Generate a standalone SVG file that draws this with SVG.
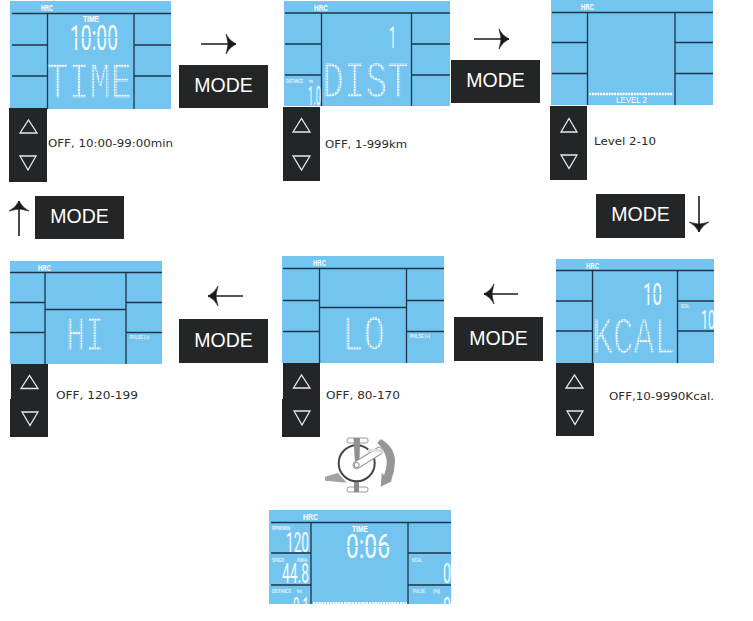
<svg xmlns="http://www.w3.org/2000/svg" width="753" height="621" viewBox="0 0 753 621">
<style>
text{font-family:"Liberation Sans",Arial,sans-serif}
.p{fill:#74c4f0}
.g{fill:none;stroke:#1d3448;stroke-width:1.3}
.k{fill:#242527}
.t{fill:none;stroke:#e9e9e9;stroke-width:1.3}
.m{fill:#fff;font-size:19.5px;text-anchor:middle}
text.l{fill:#2a2a2e;font-size:11px;font-family:"DejaVu Sans",sans-serif}
.h{fill:#fff;font-size:9px;font-weight:bold}
.s{fill:#e6f4fc;font-size:5.500px;font-weight:bold}
text.d{fill:#f4fbff;font-family:Roboto,"Liberation Sans",sans-serif;font-weight:400}
text.q{fill:url(#dots);stroke:#74c4f0;stroke-width:1.2;font-family:"Liberation Mono",monospace}
.a{fill:none;stroke:#1a1a1a;stroke-width:1.6;marker-end:url(#ah)}
</style>
<defs>
<pattern id="dots" width="2.7" height="2.7" patternUnits="userSpaceOnUse"><rect width="2.1" height="2.1" fill="#fff"/></pattern>
<marker id="ah" markerUnits="userSpaceOnUse" markerWidth="24" markerHeight="26" refX="13" refY="12" orient="auto" overflow="visible"><path d="M3,2Q6,8.500 13,12Q6,15.500 3,22Q5,14 5,12Q5,10 3,2Z" fill="#1a1a1a" stroke="#1a1a1a" stroke-width=".6"/></marker>
<clipPath id="c1"><rect x="269" y="510" width="182" height="94"/></clipPath>
<clipPath id="c2"><rect x="677" y="301" width="37" height="30"/></clipPath>
</defs>

<g id="connectors">
<line class="a" x1="201" y1="44" x2="236" y2="44"/>
<line class="a" x1="474" y1="39" x2="509" y2="39"/>
<line class="a" x1="699" y1="196" x2="699" y2="232"/>
<line class="a" x1="518" y1="294" x2="484" y2="294"/>
<line class="a" x1="243" y1="296" x2="208" y2="296"/>
<line class="a" x1="19" y1="236" x2="19" y2="201"/>
</g>

<g id="panel-time">
<rect class="p" x="10" y="1" width="161" height="108"/>
<path class="g" d="M12,13.500H171M47.500,13.500V109M134,13.500V109M12,45H47.500M134,45H171M12,76H47.500M134,76H171"/>
<text class="h" x="41" y="11" textLength="12" lengthAdjust="spacingAndGlyphs">HRC</text>
<text class="h" x="83" y="22" textLength="16" lengthAdjust="spacingAndGlyphs">TIME</text>
<text class="d" x="70" y="50" font-size="35" textLength="48" lengthAdjust="spacingAndGlyphs">10:00</text>
<rect class="p" x="69" y="37" width="50" height="1"/>
<text class="q" x="47" y="98" font-size="52" textLength="85" lengthAdjust="spacingAndGlyphs">TIME</text>
</g>
<g id="keys-time">
<rect class="k" x="9" y="108" width="38" height="74"/>
<path class="t" d="M20,133H37L28.500,120ZM20,156H36L28,170Z"/>
<text class="l" x="48" y="147" textLength="125" lengthAdjust="spacingAndGlyphs">OFF, 10:00-99:00min</text>
</g>
<g id="mode-1"><rect class="k" x="179" y="65" width="89" height="43"/><text class="m" x="223.500" y="92">MODE</text></g>

<g id="panel-dist">
<rect class="p" x="284" y="1" width="166" height="105"/>
<path class="g" d="M285,13H450M321.500,13V106M411.500,13V106M285,44H321.500M411.500,44H450M285,75H321.500M411.500,75H450"/>
<text class="h" x="314" y="11" textLength="14" lengthAdjust="spacingAndGlyphs">HRC</text>
<text class="d" x="389" y="48" font-size="32" textLength="7" lengthAdjust="spacingAndGlyphs">1</text>
<text class="s" x="286" y="83" textLength="17" lengthAdjust="spacingAndGlyphs">DISTANCE</text>
<text class="s" x="309" y="83" textLength="4" lengthAdjust="spacingAndGlyphs">km</text>
<text class="d" x="308" y="105" font-size="26" textLength="13" lengthAdjust="spacingAndGlyphs">1.0</text>
<text class="q" x="322" y="97" font-size="52" textLength="87" lengthAdjust="spacingAndGlyphs">DIST</text>
</g>
<g id="keys-dist">
<rect class="k" x="283" y="107" width="37" height="74"/>
<path class="t" d="M293,132H310L301.500,118.500ZM293,156H310L301.500,170Z"/>
<text class="l" x="325" y="148" textLength="82" lengthAdjust="spacingAndGlyphs">OFF, 1-999km</text>
</g>
<g id="mode-2"><rect class="k" x="451" y="60" width="89" height="43"/><text class="m" x="495.500" y="87">MODE</text></g>

<g id="panel-level">
<rect class="p" x="551" y="0" width="162" height="105"/>
<path class="g" d="M552,12.500H713M587.500,12.500V105M675,12.500V105M552,42.500H587.500M675,42.500H713M552,73.500H587.500M675,73.500H713"/>
<text class="h" x="581" y="9.500" textLength="13" lengthAdjust="spacingAndGlyphs">HRC</text>
<line x1="589" y1="94" x2="673" y2="94" stroke="#fff" stroke-width="2.500" stroke-dasharray="2 .8"/>
<text class="h" x="616" y="103" textLength="31" lengthAdjust="spacingAndGlyphs" style="font-weight:normal">LEVEL  2</text>
</g>
<g id="keys-level">
<rect class="k" x="550" y="106" width="37" height="74"/>
<path class="t" d="M561,132H577L569,118.500ZM561,155H577L569,168.500Z"/>
<text class="l" x="594" y="145" textLength="62" lengthAdjust="spacingAndGlyphs">Level 2-10</text>
</g>
<g id="mode-3"><rect class="k" x="596" y="194" width="89" height="44"/><text class="m" x="640.500" y="221">MODE</text></g>

<g id="panel-kcal">
<rect class="p" x="556" y="259" width="158" height="104"/>
<path class="g" d="M556,270.500H714M592.500,270.500V363M677.500,270.500V363M556,301H592.500M677.500,301H714M556,331H592.500M677.500,331H714"/>
<text class="h" x="586" y="268.500" textLength="13" lengthAdjust="spacingAndGlyphs">HRC</text>
<text class="d" x="643" y="305" font-size="32" textLength="19" lengthAdjust="spacingAndGlyphs">10</text>
<rect class="p" x="642" y="293" width="21" height="1"/>
<text class="s" x="681" y="308" textLength="8" lengthAdjust="spacingAndGlyphs">KCAL</text>
<g clip-path="url(#c2)"><text class="d" x="701" y="329" font-size="25" textLength="14" lengthAdjust="spacingAndGlyphs">10</text></g>
<text class="q" x="592" y="353" font-size="51" textLength="83" lengthAdjust="spacingAndGlyphs">KCAL</text>
</g>
<g id="keys-kcal">
<rect class="k" x="556" y="363" width="38" height="73"/>
<path class="t" d="M566,388H583L574.500,375ZM567,411H583L575,424.500Z"/>
<text class="l" x="609" y="400" textLength="105" lengthAdjust="spacingAndGlyphs">OFF,10-9990Kcal.</text>
</g>

<g id="panel-lo">
<rect class="p" x="282" y="256" width="162" height="107"/>
<path class="g" d="M283,268.500H444M319.500,268.500V363M406.500,268.500V363M283,300.500H319.500M406.500,300.500H444M283,331.500H319.500M406.500,331.500H444M319.500,307.500H406.500"/>
<text class="h" x="313" y="265.500" textLength="13" lengthAdjust="spacingAndGlyphs">HRC</text>
<text class="s" x="410" y="338" textLength="20" lengthAdjust="spacingAndGlyphs">PULSE (+)</text>
<text class="q" x="342" y="350" font-size="50" textLength="43" lengthAdjust="spacingAndGlyphs">LO</text>
</g>
<g id="keys-lo">
<rect class="k" x="283" y="363" width="37" height="36"/><rect class="k" x="282" y="399" width="38" height="38"/>
<path class="t" d="M293.500,388H310L301.500,375ZM294,411H310L302,425Z"/>
<text class="l" x="326" y="399" textLength="74" lengthAdjust="spacingAndGlyphs">OFF, 80-170</text>
</g>
<g id="mode-4"><rect class="k" x="454" y="317" width="89" height="44"/><text class="m" x="498.500" y="345">MODE</text></g>

<g id="panel-hi">
<rect class="p" x="10" y="261" width="152" height="103"/>
<path class="g" d="M10,272.500H162M45,272.500V364M126,272.500V364M10,302.500H45M126,302.500H162M10,332.500H45M126,332.500H162M45,309.500H126"/>
<text class="h" x="38" y="270.500" textLength="13" lengthAdjust="spacingAndGlyphs">HRC</text>
<text class="s" x="130" y="339" textLength="19" lengthAdjust="spacingAndGlyphs">PULSE (+)</text>
<text class="q" x="66" y="350" font-size="49" textLength="38" lengthAdjust="spacingAndGlyphs">HI</text>
</g>
<g id="keys-hi">
<rect class="k" x="11" y="364" width="37" height="36"/><rect class="k" x="10" y="399" width="38" height="38"/>
<path class="t" d="M21,388.500H38L29.500,375.500ZM22,412H38L30,425.500Z"/>
<text class="l" x="56" y="399" textLength="82" lengthAdjust="spacingAndGlyphs">OFF, 120-199</text>
</g>
<g id="mode-5"><rect class="k" x="179" y="319" width="89" height="44"/><text class="m" x="223.500" y="347">MODE</text></g>
<g id="mode-6"><rect class="k" x="35" y="196" width="89" height="43"/><text class="m" x="79.500" y="223">MODE</text></g>

<g id="pedal-icon">
<path d="M325,476.700L338,473L346.700,482.700L325,480.700Z" fill="#a3a3a3"/>
<circle cx="356.700" cy="463.300" r="18" fill="#fff" stroke="#444" stroke-width="2"/>
<rect x="347" y="438" width="21" height="5" rx="2" fill="#fff" stroke="#999"/>
<rect x="347" y="487" width="21" height="5" rx="2" fill="#fff" stroke="#999"/>
<path d="M353.500,438H360L359.500,463H355Z" fill="#8f8f8f"/>
<path d="M354,482H359V492H354Z" fill="#8a8a8a"/>
<path d="M356.700,465L379,451" stroke="#9a9a9a" stroke-width="8" stroke-linecap="round"/>
<path d="M356.700,465L379,451" stroke="#fff" stroke-width="6" stroke-linecap="round"/>
<circle cx="356.700" cy="465" r="2.500" fill="#fff" stroke="#888"/>
<rect x="368" y="449" width="20" height="3" fill="#ddd"/>
<path d="M380.700,439Q395,447 395,462Q394.500,472 391,481L392.700,480.700L380.700,486.700L381.700,473L384,475Q387,468 386.700,460Q385,450 377.300,443Z" fill="#969696"/>
</g>

<g id="panel-run">
<rect class="p" x="269" y="510" width="182" height="94"/>
<path class="g" d="M271,522.500H451M311,522.500V604M408,522.500V604M271,553H311M408,553H451M271,585H311M408,585H451"/>
<g clip-path="url(#c1)">
<text class="h" x="303" y="520" textLength="15" lengthAdjust="spacingAndGlyphs">HRC</text>
<text class="s" x="272" y="529.500" textLength="18" lengthAdjust="spacingAndGlyphs">RPM/MIN</text>
<text class="d" x="286" y="552" font-size="27" textLength="23" lengthAdjust="spacingAndGlyphs">120</text>
<text class="s" x="272" y="561.500" textLength="12" lengthAdjust="spacingAndGlyphs">SPEED</text>
<text class="s" x="297" y="561.500" textLength="10" lengthAdjust="spacingAndGlyphs">KM/H</text>
<text class="d" x="282" y="583" font-size="27" textLength="27" lengthAdjust="spacingAndGlyphs">44.8</text>
<text class="s" x="272" y="593" textLength="19" lengthAdjust="spacingAndGlyphs">DISTANCE</text>
<text class="s" x="297" y="593" textLength="5" lengthAdjust="spacingAndGlyphs">km</text>
<text class="d" x="293" y="617" font-size="27" textLength="16" lengthAdjust="spacingAndGlyphs">0.1</text>
<text class="h" x="352" y="532" textLength="16" lengthAdjust="spacingAndGlyphs">TIME</text>
<text class="d" x="346" y="558" font-size="33" textLength="44" lengthAdjust="spacingAndGlyphs">0:06</text>
<rect class="p" x="345" y="546" width="46" height="1"/>
<text class="s" x="412" y="562" textLength="10" lengthAdjust="spacingAndGlyphs">KCAL</text>
<text class="d" x="443" y="583" font-size="27" textLength="8" lengthAdjust="spacingAndGlyphs">0</text>
<text class="s" x="413" y="593" textLength="12" lengthAdjust="spacingAndGlyphs">PULSE</text>
<text class="s" x="433" y="593" textLength="7" lengthAdjust="spacingAndGlyphs">(%)</text>
<text class="d" x="443" y="617" font-size="27" textLength="8" lengthAdjust="spacingAndGlyphs">0</text>
<line x1="313" y1="603" x2="407" y2="603" stroke="#fff" stroke-width="2" stroke-dasharray="2 .8"/>
</g>
</g>
</svg>
